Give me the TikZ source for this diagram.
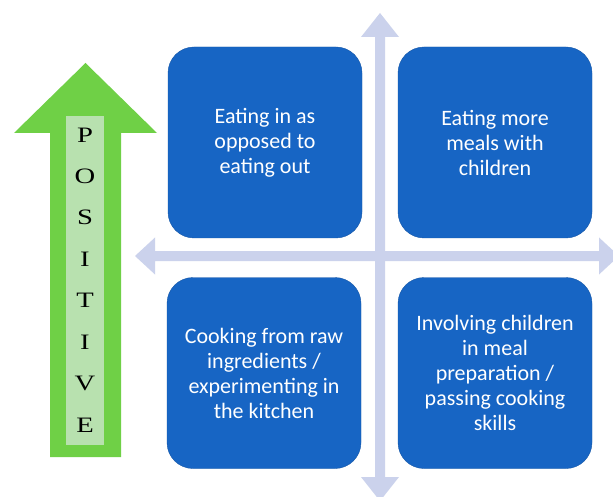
\documentclass[tikz,border=0pt]{standalone}
\usepackage{fontspec}
\newfontfamily\boxfont{Carlito}
\newfontfamily\letterfont{Liberation Serif}
\definecolor{boxblue}{RGB}{23,101,196}
\definecolor{crosscol}{RGB}{203,210,236}
\definecolor{arrowgreen}{RGB}{111,208,70}
\definecolor{innergreen}{RGB}{184,225,175}
\tikzset{
  quad/.style={fill=boxblue, draw=boxblue!85!black, line width=0.4pt, rounded corners=26pt,
    minimum width=194pt, minimum height=191pt, inner sep=0pt,
    text=white, align=center, font=\boxfont\fontsize{22}{25}\selectfont},
  letter/.style={font=\letterfont\fontsize{22}{24}\selectfont, text=black, inner sep=0pt},
  crossarrow/.style={fill=crosscol, draw=none}
}
\newcommand{\wideletter}[1]{\scalebox{1.3}[1]{#1}}
\begin{document}
\begin{tikzpicture}[x=1pt,y=-1pt]
\useasboundingbox (0,0) rectangle (613,497);
\fill[white] (0,0) rectangle (613,497);
\begin{scope}
\clip (0,0) rectangle (613,497);
% vertical cross arrow
\fill[crossarrow] (380,13) -- (399,37) -- (385,37) -- (385,477) -- (399,477) -- (380,501)
  -- (361,477) -- (375,477) -- (375,37) -- (361,37) -- cycle;
% horizontal cross arrow
\fill[crossarrow] (135,256) -- (155,237.5) -- (155,251) -- (599,251) -- (599,237.5) -- (619,256)
  -- (599,274.5) -- (599,261) -- (155,261) -- (155,274.5) -- cycle;
\end{scope}
% boxes
\node[quad] (tl) at (265,142.5) {Eating in as\\opposed to\\eating out};
\node[quad] (tr) at (495,142.5) {Eating more\\meals with\\children};
\node[quad] (bl) at (264,373) {Cooking from raw\\ingredients /\\experimenting in\\the kitchen};
\node[quad] (br) at (495,373) {Involving children\\in meal\\preparation /\\passing cooking\\skills};
% green arrow
\fill[arrowgreen] (85.5,63) -- (157,133) -- (121,133) -- (121,457) -- (50,457) -- (50,133) -- (14,133) -- cycle;
\fill[innergreen] (66,116) rectangle (104,445);
\foreach \L [count=\i from 0] in {P,O,S,I,T,I,V,E} {
  \node[letter] (l\i) at (85, 135+41.4*\i) {\wideletter{\L}};
}
\end{tikzpicture}
\end{document}
